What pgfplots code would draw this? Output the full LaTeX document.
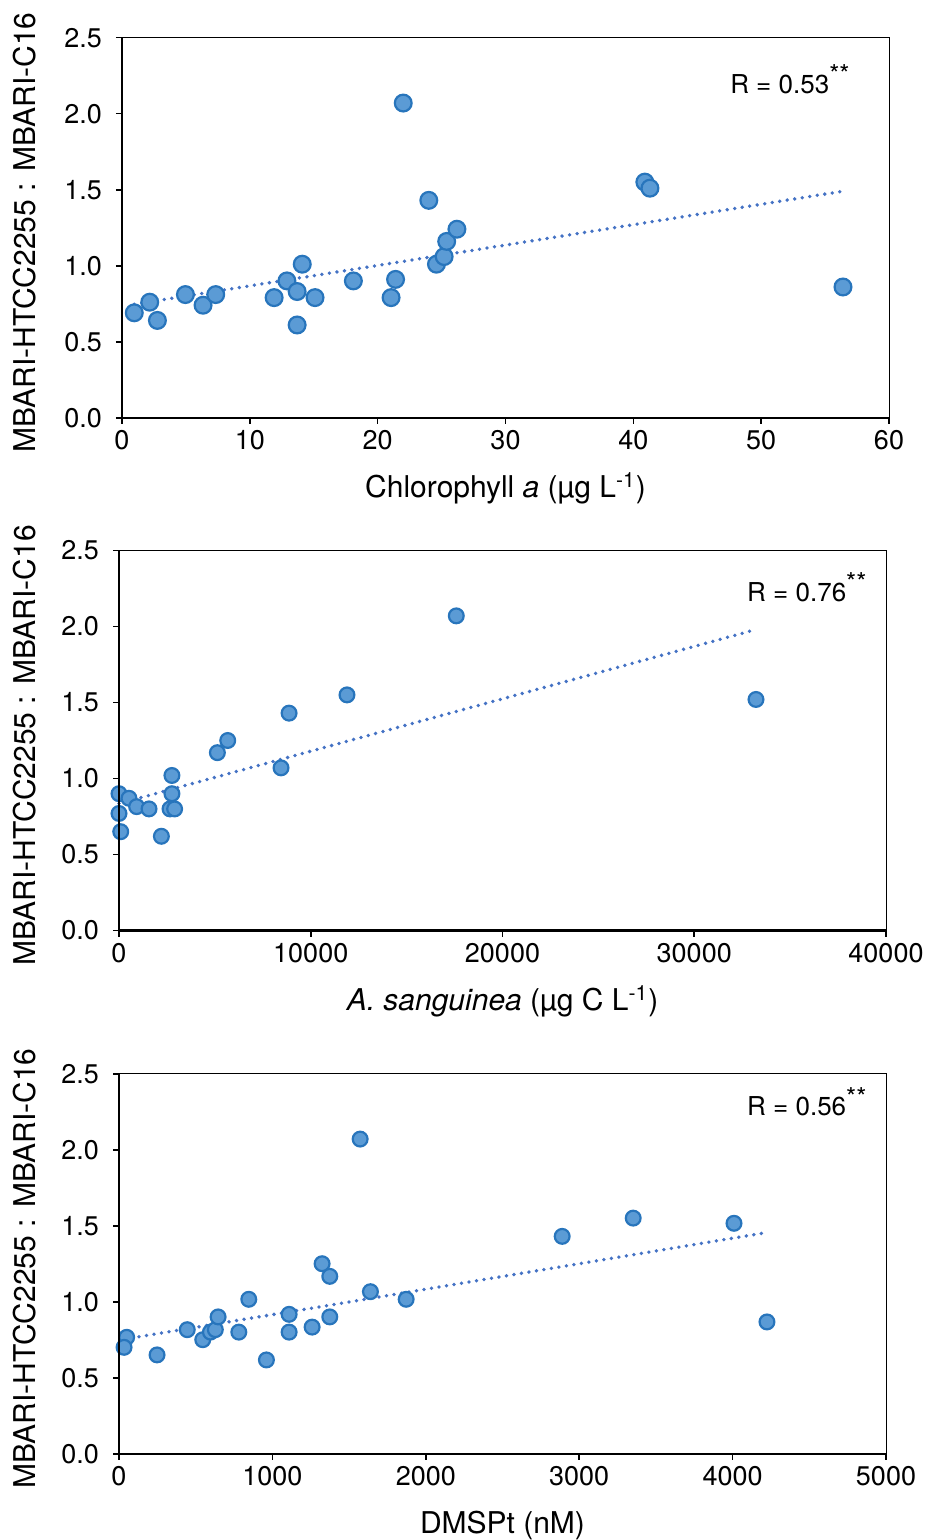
\documentclass[border=0pt]{standalone}
\usepackage{pgfplots}
\pgfplotsset{compat=1.18}
\usepackage{fontspec}
\setmainfont{TeX Gyre Heros}
\definecolor{mfill}{RGB}{91,155,213}
\definecolor{mdraw}{RGB}{40,117,188}
\definecolor{tline}{RGB}{68,114,196}
\newcommand{\rlab}[1]{R = #1\raisebox{0.36em}{\fontsize{13}{13}\selectfont **}}
\tikzset{rnode/.style={anchor=base east, inner sep=0pt, font=\fontsize{13}{15}\selectfont}}
\pgfplotsset{
  panel/.style={
    scale only axis, width=383.5pt, height=190pt,
    anchor=south west,
    ymin=0, ymax=2.5, ytick={0,0.5,1,1.5,2,2.5},
    yticklabel style={/pgf/number format/fixed, /pgf/number format/fixed zerofill, /pgf/number format/precision=1},
    /pgf/number format/assume math mode=true,
    /pgf/number format/1000 sep={},
    tick pos=left, tick align=outside, major tick length=3pt,
    tick style={black, line width=0.8pt},
    axis line style={black, line width=0.5pt},
    xticklabel style={font=\fontsize{13.5}{15}\selectfont},
    yticklabel style={font=\fontsize{13.5}{15}\selectfont, xshift=-3.5pt},
    every axis x label/.style={at={(axis description cs:0.5,0)}, anchor=base, yshift=-40pt, font=\fontsize{15}{18}\selectfont},
    ylabel={MBARI-HTCC2255 : MBARI-C16},
    clip=false,
    after end axis/.code={\draw[black, line width=1.1pt] (rel axis cs:0,1) -- (rel axis cs:0,0) -- (rel axis cs:1,0);},
  },
  ylab/.style={every axis y label/.style={at={(axis description cs:#1,0.487)}, rotate=90, anchor=center, font=\fontsize{15}{18}\selectfont}},
  pts/.style={only marks, mark=*, mark size=#1, mark options={fill=mfill, draw=mdraw, line width=1.1pt}},
  trend/.style={no marks, tline, line width=1.9pt, line cap=round, dash pattern=on 0pt off 3.8pt},
}
\begin{document}
\begin{tikzpicture}
\useasboundingbox (0,0) rectangle (463pt,-770pt);
% Panel 1
\begin{axis}[panel, ylab=-0.1265, at={(61pt,-208.85pt)},
  xmin=0, xmax=60, xtick={0,10,...,60},
  xlabel={Chlorophyll \textit{a} (µg L\textsuperscript{-1})}]
\addplot[trend] coordinates {(0.96,0.746) (56.4,1.49)};
\addplot[pts=4.2pt] coordinates {
(0.96,0.69) (2.17,0.76) (2.77,0.64) (4.96,0.81) (6.34,0.74) (7.33,0.81)
(11.9,0.79) (12.9,0.90) (13.7,0.83) (13.7,0.61) (14.1,1.01) (15.1,0.79)
(18.1,0.90) (21.05,0.79) (21.4,0.91) (22.0,2.07) (24.0,1.43) (24.6,1.01)
(25.2,1.06) (25.4,1.16) (26.2,1.24) (40.9,1.55) (41.3,1.51) (56.4,0.86)};
\node[rnode] at (rel axis cs:0.949,0.854) {\rlab{0.53}};
\end{axis}
% Panel 2
\begin{axis}[panel, ylab=-0.1226, at={(59.5pt,-465.25pt)},
  xmin=0, xmax=40000, xtick={0,10000,...,40000},
  scaled x ticks=false,
  xlabel={\textit{A. sanguinea} (µg C L\textsuperscript{-1})}]
\addplot[trend] coordinates {(0,0.835) (33220,1.98)};
\addplot[pts=3.7pt] coordinates {
(0,0.90) (0,0.77) (90,0.65) (520,0.87) (920,0.815) (1565,0.80)
(2210,0.62) (2660,0.80) (2900,0.80) (2760,0.90) (2760,1.02) (5130,1.17)
(5670,1.25) (8450,1.07) (8870,1.43) (11890,1.55) (17590,2.07) (33220,1.52)};
\node[rnode] at (rel axis cs:0.975,0.867) {\rlab{0.76}};
\end{axis}
% Panel 3
\begin{axis}[panel, ylab=-0.1226, at={(59.5pt,-726.85pt)},
  xmin=0, xmax=5000, xtick={0,1000,...,5000},
  scaled x ticks=false,
  xlabel={DMSPt (nM)}]
\addplot[trend] coordinates {(33,0.753) (4224,1.455)};
\addplot[pts=3.7pt] coordinates {
(50,0.766) (33,0.70) (248,0.65) (445,0.816) (546,0.75) (596,0.80)
(628,0.816) (646,0.90) (846,1.016) (781,0.80) (961,0.617) (1109,0.917)
(1109,0.80) (1259,0.833) (1324,1.25) (1374,1.167) (1374,0.90) (1572,2.07)
(1639,1.066) (1872,1.016) (2889,1.43) (3352,1.55) (4009,1.516) (4224,0.867)};
\node[rnode] at (rel axis cs:0.975,0.889) {\rlab{0.56}};
\end{axis}
\end{tikzpicture}
\end{document}
